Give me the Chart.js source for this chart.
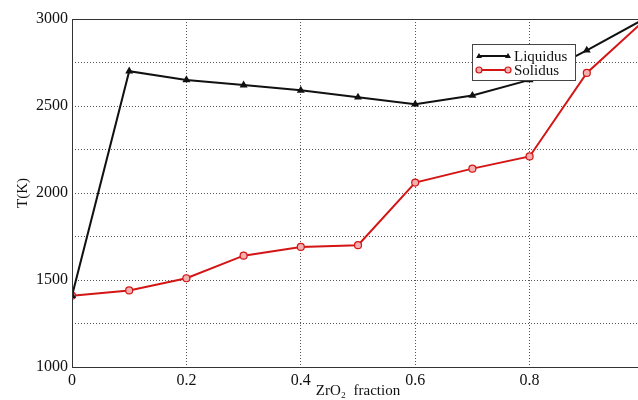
<!DOCTYPE html>
<html>
<head>
<meta charset="utf-8">
<script src="https://cdn.jsdelivr.net/npm/chart.js@4/dist/chart.umd.min.js"></script>
<style>
  html, body { margin: 0; padding: 0; background: #fff; overflow: hidden; }
  #wrap { width: 638px; height: 400px; overflow: hidden; }
</style>
</head>
<body>
<div id="wrap"><canvas id="chart" width="650" height="400"></canvas></div>
<script>
// ZrO2 fraction
const fractions = [0, 0.1, 0.2, 0.3, 0.4, 0.5, 0.6, 0.7, 0.8, 0.9, 1.0];
const liquidus = [1410, 2700, 2650, 2620, 2590, 2550, 2510, 2560, 2650, 2820, 3000];
const solidus = [1410, 1440, 1510, 1640, 1690, 1700, 2060, 2140, 2210, 2690, 2990];
const yTicks = [1000, 1250, 1500, 1750, 2000, 2250, 2500, 2750, 3000];
const xLabels = ['0', '0.2', '0.4', '0.6', '0.8', '1'];

const serif = "'Liberation Serif', 'DejaVu Serif', serif";
const black = '#111111';
const red = '#d41515';

const toPts = (ys) => fractions.map((x, i) => ({ x: x, y: ys[i] }));

// box round plot + legend inside the plot, like the matlab figure
const framePlugin = {
  id: 'frame',
  afterDatasetsDraw(chart) {
    const { ctx, chartArea: a } = chart;
    ctx.save();
    ctx.strokeStyle = '#333';
    ctx.lineWidth = 1;
    ctx.strokeRect(a.left + 0.5, a.top + 0.5, a.right - a.left, a.bottom - a.top);

    // legend box
    const bx = 472, by = 44, bw = 103, bh = 36;
    ctx.fillStyle = '#fff';
    ctx.fillRect(bx, by, bw, bh);
    ctx.strokeStyle = '#444';
    ctx.strokeRect(bx + 0.5, by + 0.5, bw, bh);
    chart.data.datasets.forEach((ds, i) => {
      const yy = by + 12 + i * 14;
      ctx.strokeStyle = ds.borderColor;
      ctx.lineWidth = 2;
      ctx.beginPath();
      ctx.moveTo(479, yy);
      ctx.lineTo(508, yy);
      ctx.stroke();
      [479, 508].forEach(px => {
        ctx.lineWidth = 1.2;
        ctx.beginPath();
        if (ds.pointStyle === 'triangle') {
          ctx.fillStyle = ds.borderColor;
          ctx.moveTo(px, yy - 3);
          ctx.lineTo(px + 3, yy + 2);
          ctx.lineTo(px - 3, yy + 2);
          ctx.closePath();
          ctx.fill();
        } else {
          ctx.fillStyle = '#f2b0b0';
          ctx.arc(px, yy, 3, 0, Math.PI * 2);
          ctx.fill();
          ctx.stroke();
        }
      });
      ctx.fillStyle = '#111';
      ctx.font = '15px ' + serif;
      ctx.textBaseline = 'middle';
      ctx.fillText(ds.label, 514, yy + 1);
    });
    ctx.restore();
  }
};

const chart = new Chart(document.getElementById('chart'), {
  type: 'line',
  data: {
    datasets: [
      {
        label: 'Liquidus',
        data: toPts(liquidus),
        borderColor: black,
        backgroundColor: black,
        borderWidth: 2,
        pointStyle: 'triangle',
        pointRadius: 2.6,
        pointBackgroundColor: black,
        tension: 0
      },
      {
        label: 'Solidus',
        data: toPts(solidus),
        borderColor: red,
        backgroundColor: red,
        borderWidth: 2,
        pointStyle: 'circle',
        pointRadius: 3.5,
        pointBorderWidth: 1.2,
        pointBackgroundColor: '#f2b0b0',
        tension: 0
      }
    ]
  },
  options: {
    responsive: false,
    animation: false,
    layout: { padding: { top: 19, right: 0, left: 0, bottom: 0 } },
    plugins: {
      legend: { display: false },
      tooltip: { enabled: false }
    },
    scales: {
      x: {
        type: 'linear',
        min: 0,
        max: 1.0,
        afterBuildTicks: (axis) => {
          axis.ticks = fractions.map(v => ({ value: v }));
        },
        afterFit: (axis) => { axis.height = 33; },
        ticks: {
          autoSkip: false,
          maxRotation: 0,
          padding: 4,
          color: '#111',
          font: { family: serif, size: 16 },
          callback: (v, i) => (i % 2 === 0 && i < 10 ? xLabels[i / 2] : '')
        },
        grid: {
          drawTicks: false,
          color: (c) => (c.index % 2 === 0 && c.index > 0 && c.index < 10 ? '#555' : 'rgba(0,0,0,0)'),
          lineWidth: 1
        },
        border: { display: false, dash: [1, 2] },
        title: {
          display: true,
          text: 'ZrO\u2082  fraction',
          color: '#111',
          font: { family: serif, size: 15 },
          padding: { top: -2, bottom: 0 }
        }
      },
      y: {
        min: 1000,
        max: 3000,
        afterBuildTicks: (axis) => {
          axis.ticks = yTicks.map(v => ({ value: v }));
        },
        afterFit: (axis) => { axis.width = 72; },
        ticks: {
          autoSkip: false,
          padding: 4,
          color: '#111',
          font: { family: serif, size: 16 },
          callback: (v) => (v % 500 === 0 ? String(v) : '')
        },
        grid: {
          drawTicks: false,
          color: (c) => (c.tick && c.tick.value > 1000 && c.tick.value < 3000 ? '#555' : 'rgba(0,0,0,0)'),
          lineWidth: 1
        },
        border: { display: false, dash: [1, 2] },
        title: {
          display: true,
          text: 'T(K)',
          color: '#111',
          font: { family: serif, size: 15 },
          padding: { top: 14, bottom: 0 }
        }
      }
    }
  },
  plugins: [framePlugin]
});
</script>
</body>
</html>
